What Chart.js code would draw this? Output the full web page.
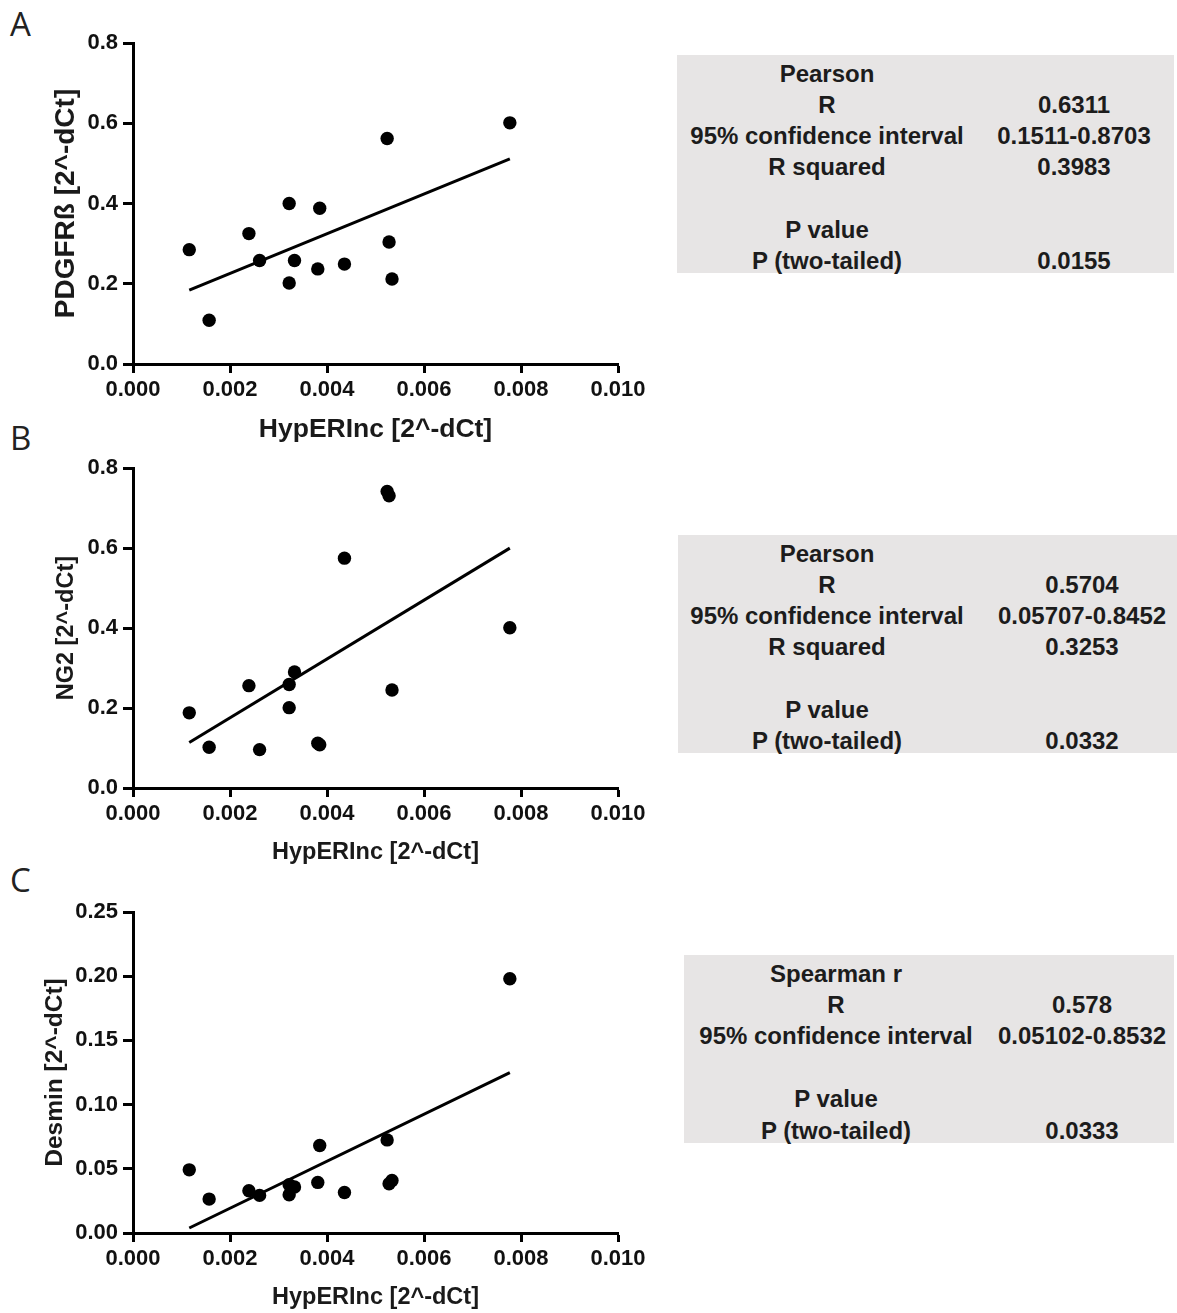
<!DOCTYPE html>
<html>
<head>
<meta charset="utf-8">
<script src="https://cdn.jsdelivr.net/npm/chart.js@4.4.1/dist/chart.umd.min.js"></script>
<style>
    body { margin: 0; background: #fff; width: 1177px; height: 1313px; position: relative; overflow: hidden; font-family: 'Liberation Sans', Arial, sans-serif; }
    canvas { position: absolute; left: 0; }
    .panel { position: absolute; left: 10px; font-family: 'Open Sans', sans-serif; font-size: 33px; line-height: 33px; color: #222; }
    .stats { position: absolute; background: #e7e5e5; }
    .cell { position: absolute; transform: translate(-50%, -50%); white-space: nowrap; font-weight: bold; font-size: 24px; line-height: 1; color: #1c1c1c; }
</style>
</head>
<body>
<div class="panel" style="top:7px">A</div>
<div class="panel" style="top:421px">B</div>
<div class="panel" style="top:863px">C</div>

<canvas id="chartA" width="660" height="450" style="top:0px"></canvas>
<canvas id="chartB" width="660" height="430" style="top:450px"></canvas>
<canvas id="chartC" width="660" height="433" style="top:880px"></canvas>

<div class="stats" id="statsA" style="left:677px; top:55px; width:497px; height:218px"></div>
<div class="stats" id="statsB" style="left:678px; top:535px; width:499px; height:218px"></div>
<div class="stats" id="statsC" style="left:684px; top:955px; width:490px; height:188px"></div>

<script>
// HypERInc expression (x) shared by all three panels
const hypERInc = [0.00116, 0.00157, 0.00239, 0.00261, 0.00322, 0.00322, 0.00333, 0.00381, 0.00385, 0.00436, 0.00524, 0.00528, 0.00534, 0.00777];

// Marker expression (y)
const pdgfrb = [0.285, 0.109, 0.325, 0.258, 0.400, 0.202, 0.258, 0.237, 0.388, 0.249, 0.562, 0.304, 0.212, 0.601];
const ng2 = [0.188, 0.102, 0.256, 0.096, 0.259, 0.201, 0.290, 0.112, 0.108, 0.575, 0.742, 0.731, 0.245, 0.401];
const desmin = [0.0492, 0.0264, 0.0329, 0.0293, 0.0298, 0.0376, 0.0358, 0.0394, 0.0681, 0.0316, 0.0725, 0.0383, 0.0409, 0.198];

// Regression line end points
const fitX = [0.00116, 0.00777];
const fitPdgfrb = [0.184, 0.511];
const fitNg2 = [0.114, 0.600];
const fitDesmin = [0.0039, 0.1249];

// Tick labels
const xTickLabels = ['0.000', '0.002', '0.004', '0.006', '0.008', '0.010'];
const yTickLabelsAB = ['0.0', '0.2', '0.4', '0.6', '0.8'];
const yTickLabelsC = ['0.00', '0.05', '0.10', '0.15', '0.20', '0.25'];

// Correlation tables
const pearsonLabels = ['Pearson', 'R', '95% confidence interval', 'R squared', '', 'P value', 'P (two-tailed)'];
const statsValuesA = ['', '0.6311', '0.1511-0.8703', '0.3983', '', '', '0.0155'];
const statsValuesB = ['', '0.5704', '0.05707-0.8452', '0.3253', '', '', '0.0332'];
const spearmanLabels = ['Spearman r', 'R', '95% confidence interval', '', 'P value', 'P (two-tailed)'];
const statsValuesC = ['', '0.578', '0.05102-0.8532', '', '', '0.0333'];

const TICK_FONT = "'Liberation Sans', Arial, sans-serif";
const TITLE_FONT = "'Liberation Sans', Arial, sans-serif";

/**
 * Build one scatter panel with its fit line
 */
function createScatter(canvasId, ys, fitY, opts) {
    const ctx = document.getElementById(canvasId).getContext('2d');
    const points = hypERInc.map((x, i) => ({ x: x, y: ys[i] }));
    const line = fitX.map((x, i) => ({ x: x, y: fitY[i] }));

    return new Chart(ctx, {
        type: 'scatter',
        data: {
            datasets: [
                {
                    data: points,
                    backgroundColor: '#000',
                    borderWidth: 0,
                    pointRadius: 6.7
                },
                {
                    data: line,
                    showLine: true,
                    borderColor: '#000',
                    borderWidth: 3,
                    pointRadius: 0
                }
            ]
        },
        options: {
            responsive: false,
            animation: false,
            devicePixelRatio: 1,
            layout: { padding: { top: opts.top, right: 42, left: 0, bottom: 0 } },
            plugins: {
                legend: { display: false },
                tooltip: { enabled: false }
            },
            scales: {
                x: {
                    type: 'linear',
                    min: 0,
                    max: 0.010,
                    ticks: {
                        stepSize: 0.002,
                        autoSkip: false,
                        maxRotation: 0,
                        padding: 4,
                        color: '#111',
                        font: { family: TICK_FONT, size: 22, weight: 'bold' },
                        callback: (value, index) => xTickLabels[index]
                    },
                    grid: { drawOnChartArea: false, drawTicks: true, tickLength: 9, tickWidth: 3, tickColor: '#000' },
                    border: { display: true, color: '#000', width: 3 },
                    title: {
                        display: true,
                        text: 'HypERInc [2^-dCt]',
                        color: '#1a1a1a',
                        font: { family: TITLE_FONT, size: opts.xTitleSize, weight: 'bold', lineHeight: 1 },
                        padding: { top: 0, bottom: opts.xTitlePad }
                    },
                    afterFit: scale => { scale.height = opts.xHeight; }
                },
                y: {
                    type: 'linear',
                    min: 0,
                    max: opts.yMax,
                    ticks: {
                        stepSize: opts.yStep,
                        autoSkip: false,
                        padding: 5,
                        color: '#111',
                        font: { family: TICK_FONT, size: 22, weight: 'bold' },
                        callback: (value, index) => opts.yLabels[index]
                    },
                    grid: { drawOnChartArea: false, drawTicks: true, tickLength: 10, tickWidth: 3, tickColor: '#000' },
                    border: { display: true, color: '#000', width: 3 },
                    title: {
                        display: true,
                        text: opts.yTitle,
                        color: '#1a1a1a',
                        font: { family: TITLE_FONT, size: opts.yTitleSize, weight: 'bold', lineHeight: 1 },
                        padding: { top: opts.yTitlePad, bottom: 0 }
                    },
                    afterFit: scale => { scale.width = 133; }
                }
            }
        }
    });
}

createScatter('chartA', pdgfrb, fitPdgfrb, {
    top: 43, xHeight: 86, yMax: 0.8, yStep: 0.2, yLabels: yTickLabelsAB,
    yTitle: 'PDGFRß [2^-dCt]', yTitleSize: 28, yTitlePad: 52, xTitleSize: 26.5, xTitlePad: 7
});
createScatter('chartB', ng2, fitNg2, {
    top: 16, xHeight: 92, yMax: 0.8, yStep: 0.2, yLabels: yTickLabelsAB,
    yTitle: 'NG2 [2^-dCt]', yTitleSize: 23.5, yTitlePad: 55, xTitleSize: 23.5, xTitlePad: 16
});
createScatter('chartC', desmin, fitDesmin, {
    top: 32, xHeight: 80, yMax: 0.25, yStep: 0.05, yLabels: yTickLabelsC,
    yTitle: 'Desmin [2^-dCt]', yTitleSize: 24.5, yTitlePad: 43, xTitleSize: 23.5, xTitlePad: 4
});

/**
 * Fill a grey statistics box: two centred columns of text
 */
function fillStats(boxId, labels, values, geom) {
    const box = document.getElementById(boxId);
    labels.forEach((label, i) => {
        const rowY = geom.firstRow + i * geom.rowStep;
        [[label, geom.leftCol], [values[i], geom.rightCol]].forEach(([text, cx]) => {
            if (!text) return;
            const span = document.createElement('span');
            span.className = 'cell';
            span.textContent = text;
            span.style.left = cx + 'px';
            span.style.top = rowY + 'px';
            box.appendChild(span);
        });
    });
}

fillStats('statsA', pearsonLabels, statsValuesA, { firstRow: 18.5, rowStep: 31.2, leftCol: 150, rightCol: 397 });
fillStats('statsB', pearsonLabels, statsValuesB, { firstRow: 18.5, rowStep: 31.2, leftCol: 149, rightCol: 404 });
fillStats('statsC', spearmanLabels, statsValuesC, { firstRow: 18.5, rowStep: 31.4, leftCol: 152, rightCol: 398 });
</script>
</body>
</html>
